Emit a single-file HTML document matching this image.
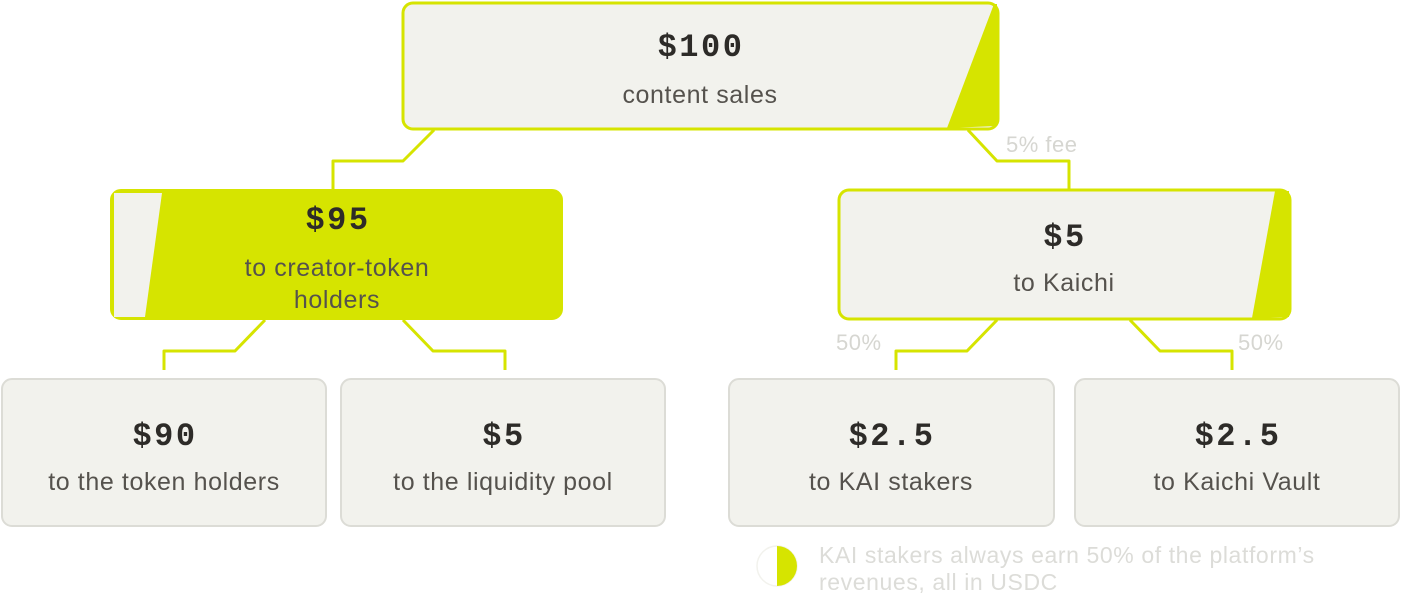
<!DOCTYPE html>
<html><head><meta charset="utf-8"><style>
body{margin:0;width:1401px;height:597px;background:#fff;position:relative;overflow:hidden;font-family:"Liberation Sans",sans-serif}
.t{position:absolute;text-align:center;transform:translateX(-50%);white-space:nowrap}
.amt{font-family:"Liberation Mono",monospace;font-weight:bold;font-size:32px;letter-spacing:2.5px;color:#2d2b28}
.sub{font-size:25px;letter-spacing:0.6px;color:#55524d;line-height:32px}
.lbl{position:absolute;font-size:22px;letter-spacing:0.5px;color:#d6d6d1}
</style></head><body>
<svg width="1401" height="597" style="position:absolute;left:0;top:0">
<g fill="none" stroke="#d6e400" stroke-width="3" stroke-linejoin="round">
<polyline points="434,130 403,161 333,161 333,189"/>
<polyline points="968,130 997,161 1069,161 1069,189"/>
<polyline points="265,320 235,351 164,351 164,370"/>
<polyline points="403,320 433,351 505,351 505,370"/>
<polyline points="997,320 967,351 896,351 896,370"/>
<polyline points="1130,320 1160,351 1232,351 1232,370"/>
</g>
<g>
<rect x="403" y="3" width="595" height="126" rx="10" fill="#f2f2ed" stroke="#d6e400" stroke-width="3"/>
<polygon points="994,4 997,4 997,126 947,128" fill="#d6e400"/>
</g>
<g>
<rect x="111" y="190" width="451" height="129" rx="10" fill="#d6e400" stroke="#d6e400" stroke-width="2"/>
<polygon points="114,193 162,193 145,317 114,317" fill="#f2f2ed"/>
</g>
<g>
<rect x="839" y="190" width="451" height="129" rx="10" fill="#f2f2ed" stroke="#d6e400" stroke-width="3"/>
<polygon points="1275,191 1289,191 1289,317 1252,318" fill="#d6e400"/>
</g>
<g fill="#f2f2ed" stroke="#dcdcd6" stroke-width="2">
<rect x="2" y="379" width="324" height="147" rx="10"/>
<rect x="341" y="379" width="324" height="147" rx="10"/>
<rect x="729" y="379" width="325" height="147" rx="10"/>
<rect x="1075" y="379" width="324" height="147" rx="10"/>
</g>
<g>
<circle cx="777" cy="566" r="20" fill="#fff" stroke="#f2f2ed" stroke-width="1.5"/>
<path d="M777,546 A20,20 0 0 1 777,586 Z" fill="#d6e400"/>
</g>
</svg>
<div class="t amt" style="left:701px;top:29px">$100</div>
<div class="t sub" style="left:700px;top:79px">content sales</div>
<div class="t amt" style="left:338px;top:202px">$95</div>
<div class="t sub" style="left:337px;top:252px">to creator-token<br>holders</div>
<div class="t amt" style="left:1065px;top:219px">$5</div>
<div class="t sub" style="left:1064px;top:267px">to Kaichi</div>
<div class="t amt" style="left:165px;top:418px">$90</div>
<div class="t sub" style="left:164px;top:466px">to the token holders</div>
<div class="t amt" style="left:504px;top:418px">$5</div>
<div class="t sub" style="left:503px;top:466px">to the liquidity pool</div>
<div class="t amt" style="left:892px;top:418px">$2.5</div>
<div class="t sub" style="left:891px;top:466px">to KAI stakers</div>
<div class="t amt" style="left:1238px;top:418px">$2.5</div>
<div class="t sub" style="left:1237px;top:466px">to Kaichi Vault</div>
<div class="lbl" style="left:1006px;top:132px">5% fee</div>
<div class="lbl" style="left:836px;top:330px">50%</div>
<div class="lbl" style="left:1238px;top:330px">50%</div>
<div style="position:absolute;left:819px;top:542px;font-size:23px;letter-spacing:0.6px;line-height:27px;color:#dcdcd8;white-space:nowrap">KAI stakers always earn 50% of the platform’s<br>revenues, all in USDC</div>
</body></html>
